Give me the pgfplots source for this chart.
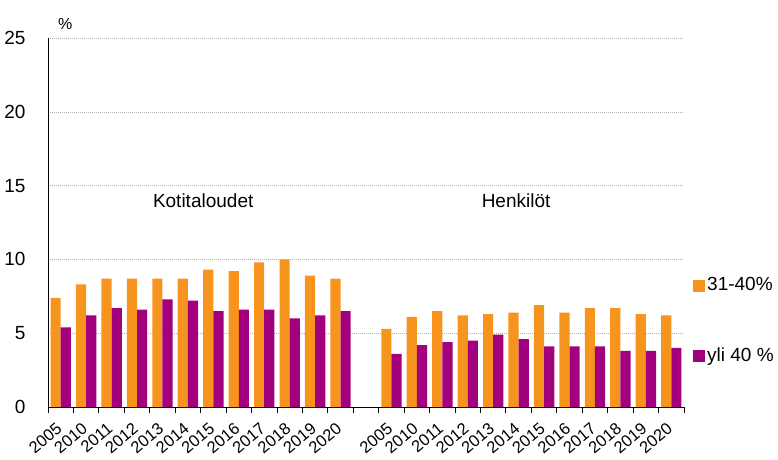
\documentclass[border=0pt]{standalone}
\usepackage{pgfplots}
\pgfplotsset{compat=1.18}
\usepackage{fontspec}
\setmainfont{Liberation Sans}
\definecolor{oranssi}{RGB}{247,148,30}
\definecolor{violetti}{RGB}{163,0,126}
\begin{document}
\begin{tikzpicture}
\fontsize{19pt}{22pt}\selectfont
	\begin{axis}[
			name=ax,
			at={(0,0)}, anchor=south west,
			scale only axis,
			width=636pt,
			height=369pt,
			clip=false,
			xmin=-0.5, xmax=24.5,
			ymin=0, ymax=25,
			ytick={0,5,...,25},
			axis lines=left,
			axis line style={-, black, line width=0.9pt},
			ymajorgrids,
			major grid style={black!30, dash pattern=on 1pt off 1pt},
			ytick style={draw=none},
			% slot boundaries as ticks, year names at the slot centres
			xtick={-0.5,0.5,...,24.5},
			xticklabels={},
			x tick style={black, line width=0.9pt},
			tick align=outside,
			major tick length=6pt,
			extra x ticks={0,...,11,13,14,...,24},
			extra x tick labels={2005,2010,2011,2012,2013,2014,2015,2016,2017,2018,2019,2020,
				2005,2010,2011,2012,2013,2014,2015,2016,2017,2018,2019,2020},
			extra x tick style={major tick length=0pt,
				xticklabel style={rotate=40, anchor=north east, inner sep=0.5pt,
					xshift=-13pt, yshift=-7.5pt, font=\fontsize{16.5pt}{18pt}\selectfont}},
			/pgf/number format/assume math mode=true,
			yticklabel style={xshift=-10pt, font=\fontsize{19pt}{22pt}\selectfont},
			ybar=0pt,
			bar width=0.4,
			legend style={at={(1,0.233)}, anchor=west, xshift=9pt, draw=none, fill=none,
				inner sep=0pt, row sep=50pt, font=\fontsize{19pt}{22pt}\selectfont},
			legend cell align=left,
			legend image code/.code={\fill[#1, draw=none] (0pt,-6pt) rectangle (12pt,6pt);},
		]
		% 31-40 %
		\addplot[fill=oranssi, draw=none] coordinates {
				(0,7.4) (1,8.3) (2,8.7) (3,8.7) (4,8.7) (5,8.7)
				(6,9.3) (7,9.2) (8,9.8) (9,10.0) (10,8.9) (11,8.7)
				(13,5.3) (14,6.1) (15,6.5) (16,6.2) (17,6.3) (18,6.4)
				(19,6.9) (20,6.4) (21,6.7) (22,6.7) (23,6.3) (24,6.2)
			};
		% yli 40 %
		\addplot[fill=violetti, draw=none] coordinates {
				(0,5.4) (1,6.2) (2,6.7) (3,6.6) (4,7.3) (5,7.2)
				(6,6.5) (7,6.6) (8,6.6) (9,6.0) (10,6.2) (11,6.5)
				(13,3.6) (14,4.2) (15,4.4) (16,4.5) (17,4.9) (18,4.6)
				(19,4.1) (20,4.1) (21,4.1) (22,3.8) (23,3.8) (24,4.0)
			};
		\legend{31-40\%, yli 40 \%}

		\node[font=\fontsize{19pt}{22pt}\selectfont] at (axis cs:5.6,14) {Kotitaloudet};
		\node[font=\fontsize{19pt}{22pt}\selectfont] at (axis cs:17.9,14) {Henkilöt};
		\node[font=\fontsize{16pt}{18pt}\selectfont, anchor=south west, inner sep=0pt]
			at (rel axis cs:0,1) [xshift=10pt, yshift=8pt] {\%};
	\end{axis}
	\pgfresetboundingbox
	\path (-48pt,-52pt) rectangle (730pt,407pt);
\end{tikzpicture}
\end{document}
